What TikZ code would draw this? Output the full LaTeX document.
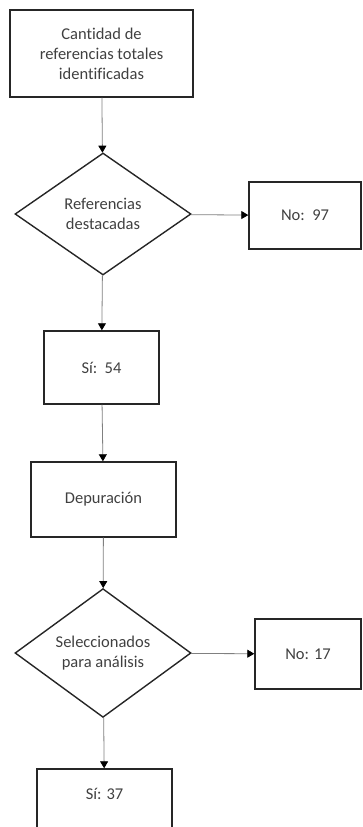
\documentclass[tikz,border=0pt]{standalone}
\usepackage{fontspec}
\setmainfont{Carlito}[Ligatures=NoCommon]
\usetikzlibrary{shapes.geometric}
\usetikzlibrary{arrows.meta}

\begin{document}
\begin{tikzpicture}[x=1pt, y=-1pt]
            \tikzstyle{box} = [draw=black!85, line width=1.4pt, rectangle, inner sep=0pt, text=black!75, font=\fontsize{16.5}{20}\selectfont, align=center]
            \tikzstyle{decision} = [draw=black!85, line width=1.4pt, diamond, inner sep=0pt, text=black!75, font=\fontsize{16.5}{20}\selectfont, align=center]
            \tikzstyle{link} = [draw=black!50, line width=0.8pt, -{Triangle[length=7pt, width=8pt, black]}]
            \useasboundingbox (0, 0) rectangle (362, 827);
            \node[box, minimum width=183pt, minimum height=87pt] (total) at (101.5, 53.5) {Cantidad de\\referencias totales\\identificadas};
            \node[decision, minimum width=176pt, minimum height=122pt] (destacadas) at (103, 214) {Referencias\\destacadas};
            \node[box, minimum width=112pt, minimum height=67pt] (no97) at (305, 215.5) {No:\ \ 97};
            \node[box, minimum width=115pt, minimum height=73pt] (si54) at (101.5, 367.5) {Sí:\ \ 54};
            \node[box, minimum width=145pt, minimum height=75pt] (depuracion) at (103.5, 499.5) {Depuración};
            \node[decision, minimum width=176pt, minimum height=122pt] (seleccion) at (103, 653) {Seleccionados\\para análisis};
            \node[box, minimum width=106pt, minimum height=70pt] (no17) at (308, 654) {No: 17};
            \node[box, minimum width=135pt, minimum height=62pt, text depth=12pt] (si37) at (104.5, 800) {Sí: 37};
            \draw[link] (total) -- (destacadas);
            \draw[link] (destacadas) -- (no97);
            \draw[link] (destacadas) -- (si54);
            \draw[link] (si54) -- (depuracion);
            \draw[link] (depuracion) -- (seleccion);
            \draw[link] (seleccion) -- (no17);
            \draw[link] (seleccion) -- (si37);
        \end{tikzpicture}
\end{document}
